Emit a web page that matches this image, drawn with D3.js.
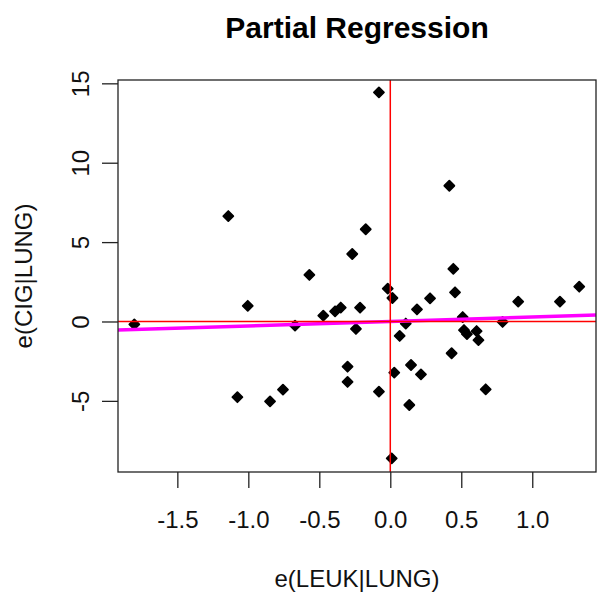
<!DOCTYPE html>
<html>
<head>
<meta charset="utf-8">
<script src="https://cdn.jsdelivr.net/npm/d3@7"></script>
<style>
  html, body { margin: 0; padding: 0; background: #fff; }
  svg { display: block; font-family: "Liberation Sans", Arial, sans-serif; }
</style>
</head>
<body>
<div id="chart"></div>
<script>
// Residuals of LEUK on LUNG (x) and CIG on LUNG (y), one per state
const residLEUK = [
  -1.803, -1.141, -1.077, -1.004, -0.847, -0.756, -0.671, -0.570, -0.472, -0.389,
  -0.349, -0.301, -0.301, -0.268, -0.242, -0.213, -0.173, -0.080, -0.080, -0.018,
   0.015,  0.010,  0.028,  0.066,  0.109,  0.134,  0.146,  0.188,  0.216,  0.280,
   0.416,  0.432,  0.444,  0.456,  0.510,  0.519,  0.540,  0.608,  0.621,  0.672,
   0.791,  0.901,  1.195,  1.331
];
const residCIG = [
  -0.18,  6.64, -4.77,  0.99, -5.03, -4.29, -0.26,  2.93,  0.37,  0.64,
   0.88, -2.85, -3.81,  4.25, -0.47,  0.87,  5.81, 14.43, -4.42,  2.07,
   1.48, -8.62, -3.22, -0.91, -0.13, -5.26, -2.74,  0.76, -3.33,  1.46,
   8.55, -2.00,  3.32,  1.84,  0.28, -0.54, -0.79, -0.60, -1.17, -4.27,
  -0.03,  1.25,  1.25,  2.19
];

// Fitted partial regression line (through the origin)
const fitIntercept = 0.0;
const fitSlope = 0.28;

const xTickValues = [-1.5, -1.0, -0.5, 0.0, 0.5, 1.0];
const xTickLabels = ["-1.5", "-1.0", "-0.5", "0.0", "0.5", "1.0"];
const yTickValues = [-5, 0, 5, 10, 15];
const yTickLabels = ["-5", "0", "5", "10", "15"];

const titleText = "Partial Regression";
const xLabel = "e(LEUK|LUNG)";
const yLabel = "e(CIG|LUNG)";

const W = 597, H = 594;
const plot = { left: 118, right: 596, top: 80, bottom: 472 };

const x = d3.scaleLinear().domain([-1.918, 1.449]).range([plot.left, plot.right]);
const y = d3.scaleLinear().domain([-9.48, 15.21]).range([plot.bottom, plot.top]);

const svg = d3.select("#chart").append("svg")
  .attr("width", W).attr("height", H);

svg.append("rect").attr("width", W).attr("height", H).attr("fill", "#fff");

svg.append("defs").append("clipPath").attr("id", "plotClip")
  .append("rect")
  .attr("x", plot.left).attr("y", plot.top)
  .attr("width", plot.right - plot.left).attr("height", plot.bottom - plot.top);

const axisColor = "#222";
const fontSize = 24;

// X axis
const xAxis = svg.append("g")
  .attr("transform", `translate(0,${plot.bottom})`)
  .call(d3.axisBottom(x).tickValues(xTickValues)
    .tickFormat((d, i) => xTickLabels[i])
    .tickSize(16).tickPadding(23));
xAxis.select(".domain").remove();
xAxis.selectAll(".tick line").attr("stroke", axisColor).attr("stroke-width", 1.3);
xAxis.selectAll(".tick text")
  .attr("font-size", fontSize).attr("fill", "#111")
  .attr("font-family", "Liberation Sans, Arial, sans-serif");

// Y axis (labels parallel to the axis)
const yAxis = svg.append("g")
  .attr("transform", `translate(${plot.left},0)`)
  .call(d3.axisLeft(y).tickValues(yTickValues)
    .tickFormat((d, i) => yTickLabels[i]).tickSize(16));
yAxis.select(".domain").remove();
yAxis.selectAll(".tick line").attr("stroke", axisColor).attr("stroke-width", 1.3);
yAxis.selectAll(".tick text")
  .attr("x", null).attr("dy", null)
  .attr("font-size", fontSize).attr("fill", "#111")
  .attr("font-family", "Liberation Sans, Arial, sans-serif")
  .attr("text-anchor", "middle")
  .attr("transform", "translate(-29,0) rotate(-90)");

// Points
const pts = residLEUK.map((v, i) => ({ x: v, y: residCIG[i] }));
const r = 5;
svg.append("g").selectAll("path.pt").data(pts).join("path")
  .attr("class", "pt")
  .attr("d", d => {
    const cx = x(d.x), cy = y(d.y);
    return `M${cx},${cy - r}L${cx + r},${cy}L${cx},${cy + r}L${cx - r},${cy}Z`;
  })
  .attr("fill", "#000").attr("stroke", "#000")
  .attr("stroke-width", 1.8).attr("stroke-linejoin", "round");

// Regression line
const lineG = svg.append("g").attr("clip-path", "url(#plotClip)");
const xd = x.domain();
lineG.append("line")
  .attr("x1", x(xd[0])).attr("y1", y(fitIntercept + fitSlope * xd[0]))
  .attr("x2", x(xd[1])).attr("y2", y(fitIntercept + fitSlope * xd[1]))
  .attr("stroke", "#ff00ff").attr("stroke-width", 3.5);

// Reference lines at zero
lineG.append("line")
  .attr("x1", plot.left).attr("x2", plot.right)
  .attr("y1", y(0)).attr("y2", y(0))
  .attr("stroke", "#ff0000").attr("stroke-width", 1.5);
lineG.append("line")
  .attr("x1", x(0)).attr("x2", x(0))
  .attr("y1", plot.top).attr("y2", plot.bottom)
  .attr("stroke", "#ff0000").attr("stroke-width", 1.5);

// Plot frame
svg.append("rect")
  .attr("x", plot.left).attr("y", plot.top)
  .attr("width", plot.right - plot.left).attr("height", plot.bottom - plot.top)
  .attr("fill", "none").attr("stroke", axisColor).attr("stroke-width", 1.3);

// Titles
svg.append("text")
  .attr("x", (plot.left + plot.right) / 2).attr("y", 38)
  .attr("text-anchor", "middle").attr("font-size", 30).attr("font-weight", "bold")
  .attr("fill", "#000").text(titleText);

svg.append("text")
  .attr("x", (plot.left + plot.right) / 2).attr("y", 587)
  .attr("text-anchor", "middle").attr("font-size", fontSize)
  .attr("fill", "#111").text(xLabel);

svg.append("text")
  .attr("transform", `translate(32,${(plot.top + plot.bottom) / 2}) rotate(-90)`)
  .attr("text-anchor", "middle").attr("font-size", fontSize)
  .attr("fill", "#111").text(yLabel);
</script>
</body>
</html>
